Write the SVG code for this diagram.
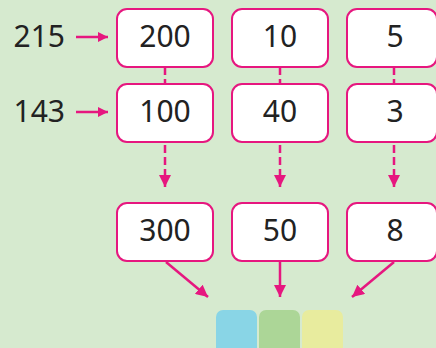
<svg xmlns="http://www.w3.org/2000/svg" width="436" height="348" viewBox="0 0 436 348">
<defs>
<style>
.box{fill:#fff;stroke:#e6177f;stroke-width:2}
.t{font-family:"Noto Sans","Liberation Sans",sans-serif;font-size:30px;fill:#222;text-anchor:middle}
.l{font-family:"Noto Sans","Liberation Sans",sans-serif;font-size:30px;fill:#222;text-anchor:end}
.c{stroke:#e6177f;stroke-width:2.5;fill:none}
.d{stroke:#e6177f;stroke-width:2.5;fill:none;stroke-dasharray:8 4}
</style>
<marker id="ah" viewBox="0 0 10 10" refX="10" refY="5" markerWidth="10" markerHeight="10" markerUnits="userSpaceOnUse" orient="auto">
<path d="M0,0 L10,5 L0,10 z" fill="#e6177f"/>
</marker>
<marker id="ah2" viewBox="0 0 12 12" refX="12" refY="6" markerWidth="12" markerHeight="12" markerUnits="userSpaceOnUse" orient="auto">
<path d="M0,0 L12,6 L0,12 z" fill="#e6177f"/>
</marker>
</defs>
<rect x="0" y="0" width="436" height="348" fill="#d6eacf"/>
<g id="connectors">
<line class="c" x1="76" y1="37" x2="108" y2="37" marker-end="url(#ah)"/>
<line class="c" x1="76" y1="112" x2="108" y2="112" marker-end="url(#ah)"/>
<line class="d" x1="165" y1="67" x2="165" y2="84" stroke-dasharray="6 3"/>
<line class="d" x1="280" y1="67" x2="280" y2="84" stroke-dasharray="6 3"/>
<line class="d" x1="394" y1="67" x2="394" y2="84" stroke-dasharray="6 3"/>
<line class="d" x1="165" y1="145" x2="165" y2="187" marker-end="url(#ah2)"/>
<line class="d" x1="280" y1="145" x2="280" y2="187" marker-end="url(#ah2)"/>
<line class="d" x1="394" y1="145" x2="394" y2="187" marker-end="url(#ah2)"/>
<line class="c" x1="166" y1="262" x2="208" y2="297" marker-end="url(#ah2)"/>
<line class="c" x1="280" y1="262" x2="280" y2="297" marker-end="url(#ah2)"/>
<line class="c" x1="394" y1="262" x2="352" y2="297" marker-end="url(#ah2)"/>
</g>
<g id="label215"><text class="l" x="65" y="47">215</text></g>
<g id="label143"><text class="l" x="65" y="122">143</text></g>
<g id="n200"><rect class="box" x="117" y="9" width="96" height="58" rx="10"/><text class="t" x="165" y="47">200</text></g>
<g id="n10"><rect class="box" x="232" y="9" width="96" height="58" rx="10"/><text class="t" x="280" y="47">10</text></g>
<g id="n5"><rect class="box" x="347" y="9" width="90" height="58" rx="10"/><text class="t" x="395" y="47">5</text></g>
<g id="n100"><rect class="box" x="117" y="84" width="96" height="58" rx="10"/><text class="t" x="165" y="122">100</text></g>
<g id="n40"><rect class="box" x="232" y="84" width="96" height="58" rx="10"/><text class="t" x="280" y="122">40</text></g>
<g id="n3"><rect class="box" x="347" y="84" width="90" height="58" rx="10"/><text class="t" x="395" y="122">3</text></g>
<g id="n300"><rect class="box" x="117" y="203" width="96" height="58" rx="10"/><text class="t" x="165" y="241">300</text></g>
<g id="n50"><rect class="box" x="232" y="203" width="96" height="58" rx="10"/><text class="t" x="280" y="241">50</text></g>
<g id="n8"><rect class="box" x="347" y="203" width="90" height="58" rx="10"/><text class="t" x="395" y="241">8</text></g>
<g id="squares">
<rect x="216" y="310" width="41" height="50" rx="7" fill="#89d5e6"/>
<rect x="259" y="310" width="41" height="50" rx="7" fill="#acd697"/>
<rect x="302" y="310" width="41" height="50" rx="7" fill="#e8ec9e"/>
</g>
</svg>
